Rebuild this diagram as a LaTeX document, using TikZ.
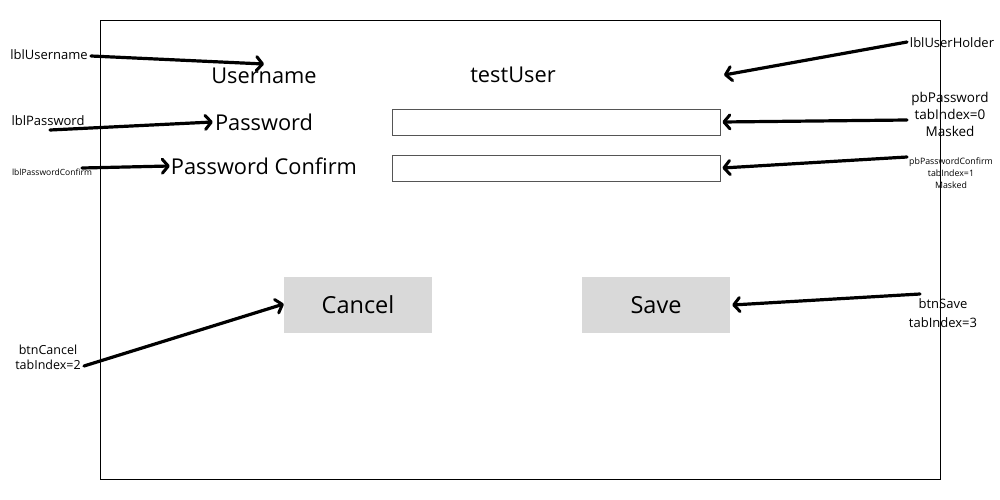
\documentclass[tikz,border=0pt]{standalone}
\usepackage{fontspec}
\setmainfont{Open Sans}
\usetikzlibrary{arrows.meta}
\definecolor{btngray}{HTML}{D9D9D9}
\definecolor{fieldline}{HTML}{555555}
\begin{document}
\begin{tikzpicture}[x=1pt,y=-1pt,
  big/.style={font=\fontsize{21.8}{24}\selectfont, inner sep=0pt},
  small/.style={font=\fontsize{13}{15}\selectfont, inner sep=0pt, align=center},
  tiny/.style={font=\fontsize{8.5}{12}\selectfont, inner sep=0pt, align=center},
  field/.style={draw=fieldline, line width=0.8pt, minimum width=328pt, minimum height=26pt, inner sep=0pt},
  btn/.style={fill=btngray, minimum width=148pt, minimum height=56pt, inner sep=0pt, font=\fontsize{23.5}{26}\selectfont},
  arr/.style={line width=3.2pt, line cap=round, -{Straight Barb[length=6pt,width=14pt,line width=3pt,round]}}]
\useasboundingbox (0,0) rectangle (1000,500);
\node[draw, line width=0.8pt, minimum width=840pt, minimum height=459pt, inner sep=0pt] (frame) at (520,249.5) {};
% form content
\node[big] (username) at (264,76) {Username};
\node[big] (testuser) at (513,75) {testUser};
\node[big] (password) at (264,122) {Password};
\node[big] (passconf) at (264,166) {Password Confirm};
\node[field] (pb) at (556,122) {};
\node[field] (pbc) at (556,168) {};
\node[btn] (cancel) at (358,305) {Cancel};
\node[btn] (save) at (656,305) {Save};
% left labels
\node[small] (lblU) at (49,55) {lblUsername};
\node[small] (lblP) at (48,121) {lblPassword};
\node[tiny] (lblPC) at (52,172) {lblPasswordConfirm};
\node[small, font=\fontsize{12.5}{15}\selectfont] (btnC) at (48,357) {btnCancel\\tabIndex=2};
% right labels
\node[small] (lblUH) at (952,43) {lblUserHolder};
\node[small, font=\fontsize{13.5}{17}\selectfont] (pbP) at (950,114) {pbPassword\\tabIndex=0\\Masked};
\node[tiny, font=\fontsize{8.8}{12}\selectfont] (pbPC) at (951,173) {pbPasswordConfirm\\tabIndex=1\\Masked};
\node[small, font=\fontsize{13}{19}\selectfont] (btnS) at (943,313) {btnSave\\tabIndex=3};
% coordinates
\coordinate (sU) at (91,56);
\coordinate (tU) at (264,64);
\coordinate (sP) at (50,130);
\coordinate (sPC) at (82,168);
\coordinate (sUH) at (907,42);
\coordinate (tUH) at (724,75);
\coordinate (sPB) at (907,120);
\coordinate (sPBC) at (907,157);
\coordinate (sS) at (920,294);
\coordinate (sC) at (84,366);
% arrows
\draw[arr] (sU) -- (tU);
\draw[arr] (sP) -- ([xshift=-2pt]password.west);
\draw[arr] (sPC) -- ([xshift=-1pt]passconf.west);
\draw[arr] (sUH) -- (tUH);
\draw[arr] (sPB) -- ([xshift=2pt]pb.east);
\draw[arr] (sPBC) -- ([xshift=2pt]pbc.east);
\draw[arr] (sS) -- ([xshift=2pt]save.east);
\draw[arr] (sC) -- ([yshift=1pt]cancel.west);
\end{tikzpicture}
\end{document}
